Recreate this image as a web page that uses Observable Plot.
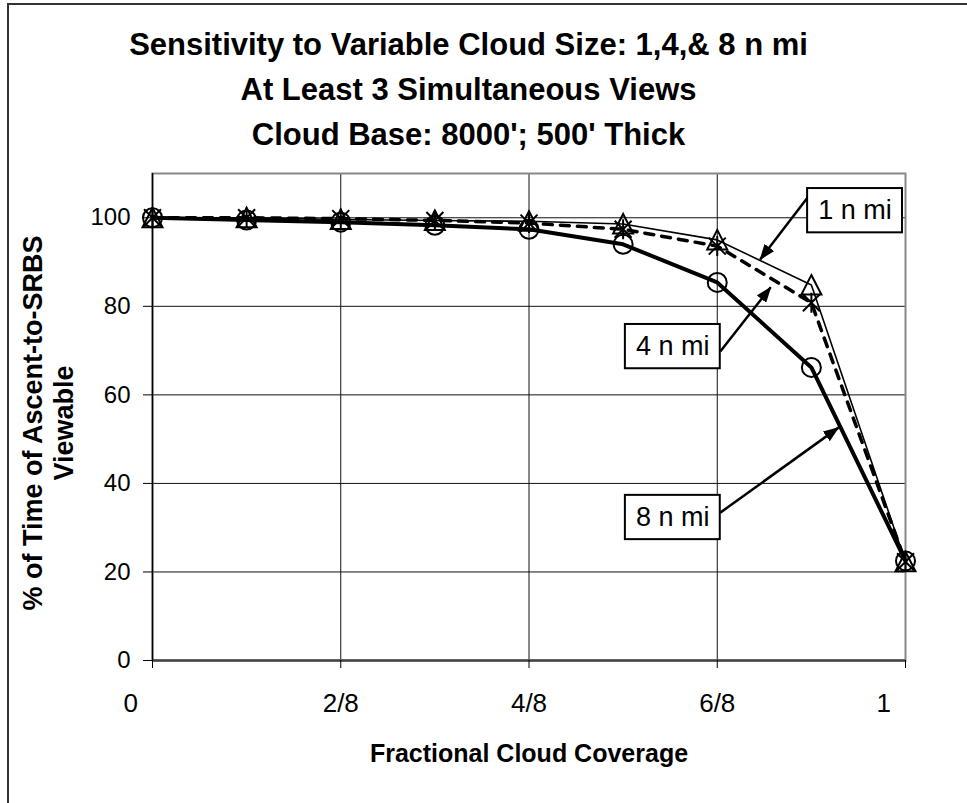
<!DOCTYPE html>
<html><head><meta charset="utf-8">
<script src="https://cdn.jsdelivr.net/npm/d3@7"></script>
<script src="https://cdn.jsdelivr.net/npm/@observablehq/plot@0.6"></script>
<style>
body{margin:0;background:#fff;}
#wrap{position:relative;width:967px;height:803px;overflow:hidden;background:#fff;font-family:"Liberation Sans",Arial,sans-serif;}
#border{position:absolute;left:7px;top:3px;width:2000px;height:2000px;border-left:2px solid #333;border-top:2px solid #333;pointer-events:none;}
#title{position:absolute;left:0;top:0;width:937px;height:160px;text-align:center;font-weight:bold;font-size:31px;line-height:45px;padding-top:22px;box-sizing:border-box;color:#000;}
#chart{position:absolute;left:0;top:160px;}
</style></head>
<body><div id="wrap">
<div id="title">Sensitivity to Variable Cloud Size: 1,4,&amp; 8 n mi<br>At Least 3 Simultaneous Views<br>Cloud Base: 8000'; 500' Thick</div>
<div id="chart"></div><div id="border"></div></div>
<script>
// ---- data ----
const coverage = [0, 0.125, 0.25, 0.375, 0.5, 0.625, 0.75, 0.875, 1];
const series = ["1 n mi", "4 n mi", "8 n mi"];
const oneNmi   = [100, 100, 99.6, 99.4, 99.2, 98.6, 95.0, 84.8, 22.3];
const fourNmi  = [100, 100, 99.8, 99.4, 98.8, 97.4, 93.6, 80.8, 22.3];
const eightNmi = [100, 99.5, 99.0, 98.3, 97.4, 94.0, 85.4, 66.2, 22.5];
const xTicks = [0, 0.25, 0.5, 0.75, 1];
const xTickLabels = ["0", "2/8", "4/8", "6/8", "1"];
const yTicks = [0, 20, 40, 60, 80, 100];
const xTitle = "Fractional Cloud Coverage";
const yTitle = "% of Time of Ascent-to-SRBS\nViewable";
// annotation labels (data units)
const annoLabels = ["1 n mi", "4 n mi", "8 n mi"];
const annoX  = [0.933, 0.691, 0.691];
const annoY  = [101.6, 70.9, 32.3];
const arrowX1 = [0.870, 0.754, 0.754];
const arrowY1 = [104.6, 69.8, 33.4];
const arrowX2 = [0.807, 0.821, 0.911];
const arrowY2 = [90.6, 84.3, 52.6];

// ---- build ----
const values = [oneNmi, fourNmi, eightNmi];
const rows = series.flatMap((s, k) => coverage.map((x, i) => ({series: s, x, y: values[k][i]})));
const bySeries = s => rows.filter(d => d.series === s);
const annos = annoLabels.map((t, i) => ({t, x: annoX[i], y: annoY[i], x1: arrowX1[i], y1: arrowY1[i], x2: arrowX2[i], y2: arrowY2[i]}));
const boxHalfW = 0.063, boxHalfH = 5.0;

const rOf = size => Math.sqrt(size / Math.PI);
const circleSym = {draw(ctx, size){const r = rOf(size); ctx.moveTo(r, 0); ctx.arc(0, 0, r, 0, 2*Math.PI);}};
const triSym = {draw(ctx, size){const r = rOf(size); ctx.moveTo(0, -r); ctx.lineTo(r, r*0.95); ctx.lineTo(-r, r*0.95); ctx.closePath();}};
const starSym = {draw(ctx, size){const r = rOf(size), a = r*0.85; ctx.moveTo(0, -r); ctx.lineTo(0, r); ctx.moveTo(-a, -a); ctx.lineTo(a, a); ctx.moveTo(-a, a); ctx.lineTo(a, -a);}};

const pad = "\u00a0\u00a0\u00a0\u00a0\u00a0\u00a0";
const fmtX = d => { const l = xTickLabels[xTicks.indexOf(d)]; return l.includes("/") ? l : l + pad; };

const chart = Plot.plot({
  width: 967, height: 643,
  marginLeft: 152, marginRight: 62, marginTop: 13, marginBottom: 143,
  style: {fontFamily: "'Liberation Sans', Arial, sans-serif", background: "white", color: "black", overflow: "visible"},
  x: {domain: [0, 1]},
  y: {domain: [0, 110]},
  marks: [
    Plot.gridX(xTicks, {stroke: "#111", strokeOpacity: 1, strokeWidth: 1}),
    Plot.gridY(yTicks, {stroke: "#111", strokeOpacity: 1, strokeWidth: 1}),
    Plot.frame({stroke: "#888", strokeWidth: 2}),
    Plot.ruleY([0], {stroke: "#444", strokeWidth: 2.5}),
    Plot.ruleX([0], {stroke: "#000", strokeWidth: 1.5}),
    Plot.axisX(xTicks, {tickFormat: fmtX, tickSize: 8, tickPadding: 25, fontSize: 26, label: null}),
    Plot.axisY(yTicks, {tickSize: 9, tickPadding: 13, fontSize: 24, label: null}),
    Plot.text([yTitle], {text: d => d, frameAnchor: "left", textAnchor: "middle", lineAnchor: "middle", rotate: -90, dx: -105, dy: 6, fontSize: 27, fontWeight: "bold", lineHeight: 1.15}),
    Plot.text([xTitle], {text: d => d, frameAnchor: "bottom", lineAnchor: "middle", dy: 93, fontSize: 25, fontWeight: "bold"}),
    Plot.line(bySeries("1 n mi"), {x: "x", y: "y", stroke: "black", strokeWidth: 1.6}),
    Plot.line(bySeries("4 n mi"), {x: "x", y: "y", stroke: "black", strokeWidth: 3.5, strokeDasharray: "9,8"}),
    Plot.line(bySeries("8 n mi"), {x: "x", y: "y", stroke: "black", strokeWidth: 4}),
    Plot.dot(bySeries("8 n mi"), {x: "x", y: "y", symbol: circleSym, r: 9.5, stroke: "black", strokeWidth: 2, fill: "none"}),
    Plot.dot(bySeries("4 n mi"), {x: "x", y: "y", symbol: starSym, r: 10, stroke: "black", strokeWidth: 2, fill: "none"}),
    Plot.dot(bySeries("1 n mi"), {x: "x", y: "y", symbol: triSym, r: 10, stroke: "black", strokeWidth: 2, fill: "none"}),
    Plot.link(annos, {x1: "x1", y1: "y1", x2: "x2", y2: "y2", stroke: "black", strokeWidth: 2.5}),
    Plot.rect(annos, {x1: d => d.x - boxHalfW, x2: d => d.x + boxHalfW, y1: d => d.y - boxHalfH, y2: d => d.y + boxHalfH, fill: "white", stroke: "black", strokeWidth: 2}),
    Plot.text(annos, {x: "x", y: "y", text: "t", fontSize: 27, fill: "black"})
  ]
});
// filled arrowheads on the annotation links
const svgEl = chart.tagName.toLowerCase() === "svg" ? chart : chart.querySelector("svg");
const svg = d3.select(svgEl);
const defs = svg.insert("defs", ":first-child");
defs.append("marker").attr("id", "ahead").attr("markerUnits", "userSpaceOnUse")
  .attr("viewBox", "0 0 16 12").attr("markerWidth", 16).attr("markerHeight", 12)
  .attr("refX", 15).attr("refY", 6).attr("orient", "auto")
  .append("path").attr("d", "M0,0L16,6L0,12z").attr("fill", "black");
svg.selectAll('g[aria-label="link"] path, g[aria-label="link"] line').attr("marker-end", "url(#ahead)");
document.getElementById("chart").appendChild(chart);
</script>
</body></html>
